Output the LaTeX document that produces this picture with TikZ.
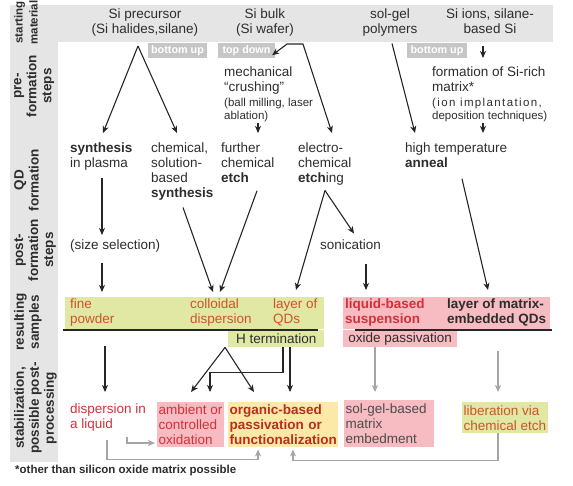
\documentclass[tikz,border=0pt]{standalone}
\usepackage{fontspec}
\setmainfont{Liberation Sans}
\usetikzlibrary{arrows.meta}

\definecolor{bandgrey}{RGB}{229,229,229}
\definecolor{taggrey}{RGB}{198,198,198}
\definecolor{samplegreen}{RGB}{224,232,164}
\definecolor{samplepink}{RGB}{246,188,193}
\definecolor{sampleyellow}{RGB}{252,233,168}
\definecolor{txt}{RGB}{45,45,45}
\definecolor{orangetxt}{RGB}{206,84,40}
\definecolor{redtxt}{RGB}{212,48,58}
\definecolor{darkred}{RGB}{185,45,30}
\definecolor{arrgrey}{RGB}{165,165,165}

\tikzset{
    qdtip/.tip={Stealth[length=7pt,width=6pt,inset=2pt]},
    lbl/.style={inner sep=0pt, anchor=north west, align=left, text=txt, font=\fontsize{13.5}{15}\selectfont},
    notetxt/.style={lbl, font=\fontsize{11.5}{13}\selectfont},
    headtxt/.style={lbl, anchor=north, align=center},
    rowlbl/.style={rotate=90, inner sep=0pt, anchor=north, align=center, text=txt, font=\bfseries\fontsize{13.5}{15}\selectfont},
    tagbox/.style={fill=taggrey, text=white, inner sep=0pt, minimum height=15pt, font=\bfseries\fontsize{10.8}{12}\selectfont},
    sbox/.style={lbl, inner xsep=1.5pt, inner ysep=2.5pt},
    arr/.style={-qdtip, line width=1.1pt, draw=black!85},
    garr/.style={arr, draw=arrgrey},
}

\begin{document}
\begin{tikzpicture}[x=1pt,y=-1pt]
    \useasboundingbox (0,0) rectangle (573,485);
    % bands
    \fill[bandgrey] (10,5) rectangle (553,42);
    \fill[bandgrey] (10,42) rectangle (58,462);
    \fill[samplegreen] (65,297) rectangle (324,329);
    \fill[samplepink] (343,297) rectangle (550,329);

    \node[rowlbl, font=\bfseries\fontsize{11.5}{15}\selectfont] at (14,22.5) {starting\\material};
    \foreach \y/\t in {86/{pre-\\formation\\steps}, 180/{QD\\formation}, 250/{post-\\formation\\steps},
        322/{resulting\\samples}, 408/{stabilization,\\possible post-\\processing}}
        \node[rowlbl] at (14,\y) {\t};

    \node[headtxt] (precursor) at (145,8.5) {Si precursor\\(Si halides,silane)};
    \node[headtxt] (bulk) at (265,8.5) {Si bulk\\(Si wafer)};
    \node[headtxt] (solgel) at (390,8.5) {sol-gel\\polymers};
    \node[headtxt] (ions) at (490,8.5) {Si ions, silane-\\based Si};

    \foreach \n/\x/\w/\t in {tagup/177.5/59/bottom up, tagdown/246.5/57/top down, tagupb/437/60/bottom up}
        \node[tagbox, minimum width=\w pt] (\n) at (\x,50.5) {\t};

    % pre-formation
    \node[lbl] (crushing) at (224,66.5) {mechanical\\“crushing”};
    \node[notetxt] (crushnote) at (224,97.5) {(ball milling, laser\\ablation)};
    \node[lbl] (richmatrix) at (432,66.5) {formation of Si-rich\\matrix*};
    \node[notetxt] (matrixnote) at (432,97.5) {{\addfontfeatures{LetterSpace=12}(ion\ implantation,}\\deposition techniques)};

    % QD formation
    \node[lbl] (plasma) at (70,142.5) {\textbf{synthesis}\\in plasma};
    \node[lbl] (chemsyn) at (151,142.5) {chemical,\\solution-\\based\\\textbf{synthesis}};
    \node[lbl] (furtheretch) at (221,142.5) {further\\chemical\\\textbf{etch}};
    \node[lbl] (electro) at (298,142.5) {electro-\\chemical\\\textbf{etch}ing};
    \node[lbl] (anneal) at (405,142.5) {high temperature\\\textbf{anneal}};

    % post-formation
    \node[lbl] (sizesel) at (70,239.5) {(size selection)};
    \node[lbl] (sonic) at (320,239.5) {sonication};

    % resulting samples
    \node[lbl, text=orangetxt] (fine) at (70,298.5) {fine\\powder};
    \node[lbl, text=orangetxt] (colloid) at (190,298.5) {colloidal\\dispersion};
    \node[lbl, text=orangetxt] (qdlayer) at (273,298.5) {layer of\\QDs};
    \node[lbl, text=redtxt, font=\bfseries\fontsize{13.5}{15}\selectfont] (liquid) at (345,298.5) {liquid-based\\suspension};
    \node[lbl, font=\bfseries\fontsize{13.5}{15}\selectfont] (embedded) at (447,298.5) {layer of matrix-\\embedded QDs};
    \node[lbl, fill=samplegreen, minimum width=96pt, minimum height=17pt] (hterm) at (228,330) {H termination};
    \node[lbl, fill=samplepink, minimum width=114pt, minimum height=17pt] (oxide) at (343,330) {oxide passivation};
    \draw[line width=2pt, black!85] (63,330) -- (318,330) (355,330) -- (552,330);

    % stabilization
    \node[lbl, text=redtxt] (disp) at (70,403.5) {dispersion in\\a liquid};
    \node[sbox, fill=samplepink, text=redtxt, minimum height=45pt] (ambient) at (157,402) {ambient or\\controlled\\oxidation};
    \node[sbox, fill=sampleyellow, text=darkred, font=\bfseries\fontsize{13.5}{15}\selectfont, text width=107pt, minimum height=45pt] (organic) at (228,402) {organic-based\\passivation or\\functionalization};
    \node[sbox, fill=samplepink, text=txt!85, text width=87pt, minimum height=47pt] (solgelbox) at (344,400) {sol-gel-based\\matrix\\embedment};
    \node[sbox, fill=samplegreen, text=orangetxt, minimum height=31pt] (liberation) at (462,402) {liberation via\\chemical etch};

    \node[lbl, font=\bfseries\fontsize{11.5}{13}\selectfont] (footnote) at (15,464.5) {*other than silicon oxide matrix possible};

    % connectors
    \coordinate (precapex) at (138,46);
    \coordinate (bulkL) at (287,44);
    \coordinate (bulkR) at (303,44);
    \draw[arr] (precapex) -- ([xshift=33pt,yshift=9.5pt]plasma.north west);
    \draw[arr] (precapex) -- ([xshift=26pt,yshift=9.5pt]chemsyn.north west);
    \draw[arr, qdtip-qdtip] ([xshift=-3pt,yshift=3pt]tagdown.south east) -- (bulkL) -- (bulkR) -- ([xshift=34pt,yshift=9.5pt]electro.north west);
    \draw[arr] ([xshift=34pt,yshift=-1pt]crushnote.south west) -- ([xshift=37pt,yshift=9.5pt]furtheretch.north west);
    \draw[arr] ([xshift=2pt,yshift=-7pt]solgel.south) -- ([xshift=10pt,yshift=9.5pt]anneal.north west);
    \draw[arr] ([xshift=-7pt,yshift=-12pt]ions.south) -- ([xshift=51pt,yshift=8.5pt]richmatrix.north west);
    \draw[arr] ([xshift=51pt,yshift=-1pt]matrixnote.south west) -- ([xshift=78pt,yshift=9.5pt]anneal.north west);

    \draw[arr] ([xshift=32pt,yshift=-8pt]plasma.south west) -- ([xshift=32pt,yshift=4.5pt]sizesel.north west);
    \draw[arr] ([xshift=32pt,yshift=-11pt]sizesel.south west) -- ([xshift=32pt,yshift=6.5pt]fine.north west);
    \draw[arr] ([xshift=32pt,yshift=-7pt]chemsyn.south west) -- ([xshift=23pt,yshift=6.5pt]colloid.north west);
    \draw[arr] ([xshift=36pt,yshift=-8pt]furtheretch.south west) -- ([xshift=30pt,yshift=6.5pt]colloid.north west);
    \coordinate (etchapex) at ([xshift=27pt,yshift=-5pt]electro.south west);
    \draw[arr] (etchapex) -- ([xshift=23pt,yshift=8.5pt]qdlayer.north west);
    \draw[arr] (etchapex) -- ([xshift=34pt,yshift=6pt]sonic.north west);
    \draw[arr] ([xshift=46pt,yshift=-14pt]sonic.south west) -- ([xshift=21pt,yshift=8.5pt]liquid.north west);
    \draw[arr] ([xshift=57pt,yshift=-11pt]anneal.south west) -- ([xshift=41pt,yshift=8.5pt]embedded.north west);

    \draw[arr] ([xshift=35pt,yshift=-20pt]fine.south west) -- ([xshift=35pt,yshift=11.5pt]disp.north west);
    \coordinate (collapex) at ([xshift=-3pt]hterm.south west);
    \draw[arr] (collapex) -- ([xshift=34pt,yshift=10pt]ambient.north west);
    \draw[arr] (collapex) -- ([xshift=26pt,yshift=10pt]organic.north west);
    \draw[arr] ([xshift=55pt]hterm.south west) -- ++(0,25) -| ([xshift=53pt,yshift=10pt]ambient.north west);
    \draw[arr] ([xshift=62pt]hterm.south west) -- ([xshift=62pt,yshift=10pt]organic.north west);
    \draw[garr] ([xshift=32pt]oxide.south west) -- ([xshift=31pt,yshift=8pt]solgelbox.north west);
    \draw[garr] ([xshift=51pt,yshift=-25pt]embedded.south west) -- ([xshift=36pt,yshift=10pt]liberation.north west);
    \draw[garr] ([xshift=57pt,yshift=-6pt]disp.south west) |- ([xshift=-2pt,yshift=-41pt]ambient.north west);
    \draw[garr] ([xshift=37pt,yshift=-9pt]disp.south west) -- ++(0,19) -| ([xshift=30pt,yshift=-2pt]organic.south west);
    \draw[garr] ([xshift=36pt]liberation.south west) -- ++(0,27) -| ([xshift=65pt,yshift=-2pt]organic.south west);
\end{tikzpicture}
\end{document}
